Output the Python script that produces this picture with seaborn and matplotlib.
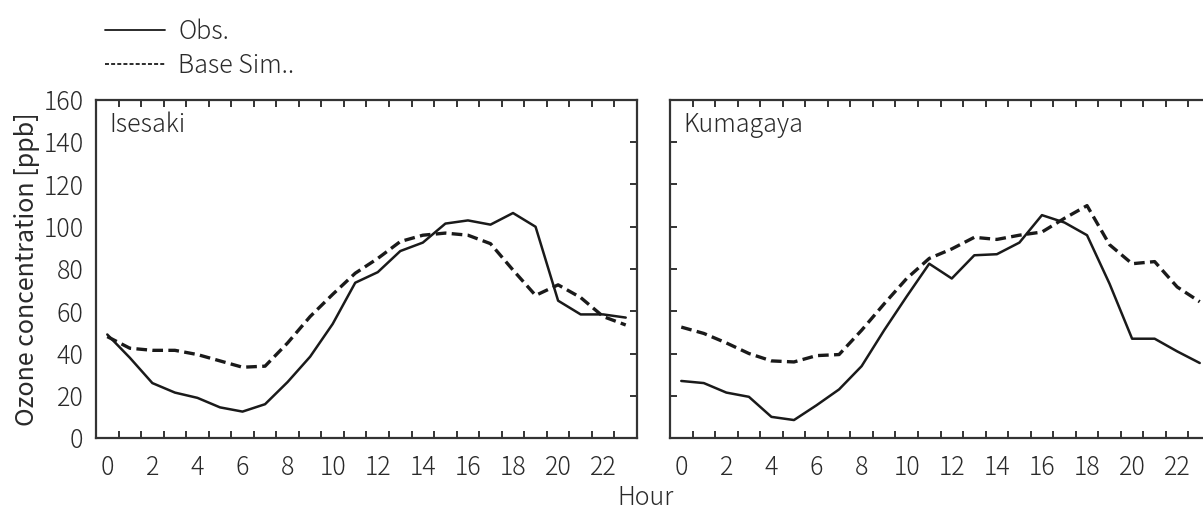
import numpy as np
import pandas as pd
import matplotlib
matplotlib.use("Agg")
import matplotlib.pyplot as plt
from matplotlib.ticker import FixedLocator
from matplotlib.lines import Line2D
import seaborn as sns

sns.set_theme(style="white")
plt.rcParams['font.family'] = ['Noto Sans CJK JP', 'DejaVu Sans']
plt.rcParams['font.weight'] = 'light'

hours = list(range(24))
sites = ["Isesaki", "Kumagaya"]
isesaki_obs = [49, 38, 26, 21.5, 19, 14.5, 12.5, 16, 26.5, 38.5, 54, 73.5, 78.5, 88.5, 92.5,
               101.5, 103, 101, 106.5, 100, 65, 58.5, 58.5, 57]
isesaki_sim = [48, 42.5, 41.5, 41.5, 39.5, 36.5, 33.5, 34, 45, 57.5, 68, 78, 85, 93, 96,
               97, 96, 92, 79.5, 67.5, 72.5, 66.5, 57.5, 53.5]
kumagaya_obs = [27, 26, 21.5, 19.5, 10, 8.5, 15.5, 23, 34, 51, 67, 82.5, 75.5, 86.5, 87,
                92.5, 105.5, 102, 96, 73, 47, 47, 41, 35.5]
kumagaya_sim = [52.5, 49.5, 45, 40, 36.5, 36, 39, 39.5, 51, 63.5, 75.5, 85, 89.5, 95, 94,
                96, 97.5, 104, 110, 91.5, 82.5, 83.5, 71.5, 64.5]
yticks = [0, 20, 40, 60, 80, 100, 120, 140, 160]
xticks = list(range(0, 24, 2))
series_labels = ["Obs.", "Base Sim.."]

txt = "#2a2a2a"
fs = 18
W, H = 1203, 514
fig = plt.figure(figsize=(W / 100, H / 100), dpi=100)
axL = fig.add_axes([96 / W, 1 - 438 / H, 541 / W, 338 / H])
axR = fig.add_axes([670 / W, 1 - 438 / H, 541 / W, 338 / H])

data = {"Isesaki": (isesaki_obs, isesaki_sim), "Kumagaya": (kumagaya_obs, kumagaya_sim)}

for ax, site in zip([axL, axR], sites):
    obs, sim = data[site]
    df = pd.DataFrame({"hour": hours, "obs": obs, "sim": sim})
    sns.lineplot(data=df, x="hour", y="obs", ax=ax, color="#1a1a1a", lw=1.8)
    sns.lineplot(data=df, x="hour", y="sim", ax=ax, color="#1a1a1a", lw=2.4,
                 linestyle=(0, (3.2, 1.6)))
    ax.set_xlim(-0.5, 23.5)
    ax.set_ylim(0, 160)
    ax.set_xlabel("")
    ax.set_ylabel("")
    for sp in ax.spines.values():
        sp.set_color("#333333")
        sp.set_linewidth(1.6)
    ax.xaxis.set_major_locator(FixedLocator(xticks))
    ax.xaxis.set_minor_locator(FixedLocator([h + 0.5 for h in range(23)]))
    ax.yaxis.set_major_locator(FixedLocator(yticks))
    ax.tick_params(axis="x", which="major", length=0, labelsize=fs, colors=txt, pad=12)
    ax.tick_params(axis="x", which="minor", direction="in", length=5, width=1.4,
                   top=True, bottom=True, color="#333333")
    ax.tick_params(axis="y", which="major", direction="in", length=5, width=1.4,
                   right=True, left=(ax is axR), labelleft=(ax is axL),
                   labelsize=fs, colors=txt, color="#333333", pad=9)
    ax.text(0.025, 0.965, site, transform=ax.transAxes, ha="left", va="top",
            fontsize=fs, color=txt)

axL.set_ylabel("Ozone concentration [ppb]", fontsize=fs, color=txt, labelpad=2.5)
fig.text(645 / W, 1 - 498 / H, "Hour", ha="center", va="center", fontsize=fs, color=txt)

handles = [Line2D([0], [0], color="#1a1a1a", lw=1.3),
           Line2D([0], [0], color="#1a1a1a", lw=1.3, linestyle=(0, (2.2, 1.2)))]
fig.legend(handles, series_labels, loc="upper left", bbox_to_anchor=(82 / W, 1 + 4 / H),
           frameon=False, fontsize=fs, handlelength=2.4, labelspacing=0.3,
           handletextpad=0.55, labelcolor=txt)

fig.savefig("out.png", dpi=100)
